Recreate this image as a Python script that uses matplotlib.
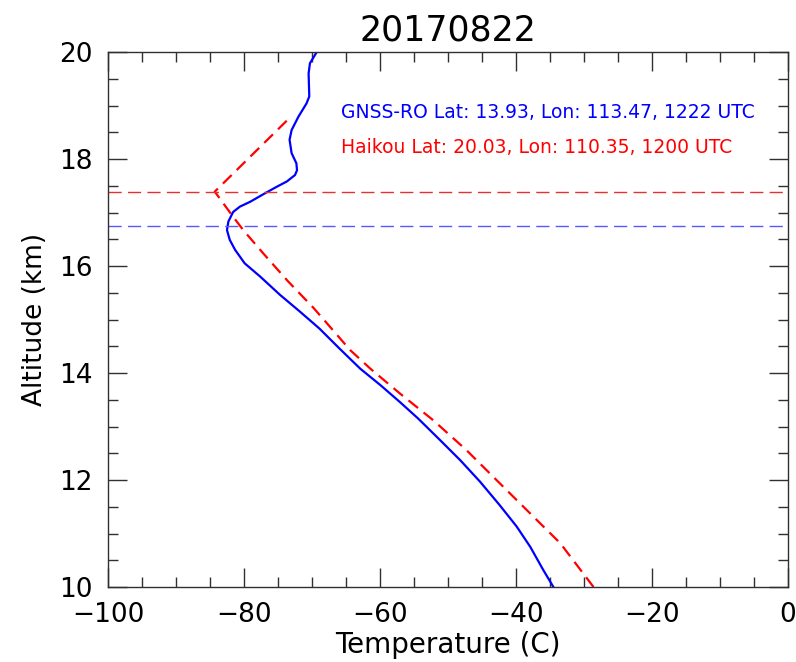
import matplotlib
matplotlib.use("Agg")
import matplotlib.pyplot as plt
from matplotlib.ticker import MultipleLocator

title = "20170822"
gnss_label = "GNSS-RO Lat: 13.93, Lon: 113.47, 1222 UTC"
haikou_label = "Haikou Lat: 20.03, Lon: 110.35, 1200 UTC"

# GNSS-RO profile (temperature C, altitude km)
gnss_temp = [-34.5, -36.0, -37.9, -39.9, -42.4, -45.3, -48.2, -51.2, -54.4, -57.1,
             -60.0, -62.9, -65.9, -68.9, -71.8, -74.7, -77.6, -79.9, -81.3, -82.1,
             -82.5, -82.3, -81.6, -80.6, -79.1, -76.9, -75.2, -73.7, -72.5, -72.2,
             -72.3, -73.0, -73.3, -73.0, -72.0, -70.8, -70.4, -70.5, -70.3, -69.3]
gnss_alt = [10.0, 10.32, 10.75, 11.13, 11.53, 11.97, 12.37, 12.75, 13.15, 13.46,
            13.78, 14.08, 14.45, 14.83, 15.15, 15.46, 15.80, 16.05, 16.30, 16.49,
            16.67, 16.83, 17.01, 17.11, 17.20, 17.36, 17.48, 17.58, 17.70, 17.79,
            17.92, 18.11, 18.36, 18.54, 18.79, 19.04, 19.17, 19.6, 19.79, 20.0]

# Haikou radiosonde profile
haikou_temp = [-28.6, -33.5, -37.4, -42.4, -47.3, -52.2, -57.1, -61.5, -64.4,
               -67.4, -69.8, -73.5, -77.2, -80.1, -81.6, -84.3, -73.2]
haikou_alt = [10.0, 10.82, 11.31, 11.94, 12.56, 13.12, 13.62, 14.09, 14.43,
              14.87, 15.22, 15.71, 16.24, 16.67, 16.92, 17.39, 18.78]

# tropopause heights
trop_haikou = 17.39
trop_gnss = 16.75

fig = plt.figure(figsize=(7.96, 6.62), dpi=100)
ax = fig.add_axes([108/796, 1-587/662, 680/796, 535/662])

ax.plot(gnss_temp, gnss_alt, color="#0000ff", lw=1.6, solid_joinstyle="round")
ax.plot(haikou_temp, haikou_alt, color="#ff0000", lw=1.6, dashes=(5.5, 3.2))
ax.axhline(trop_haikou, color="#e83030", lw=1.0, dashes=(9.5, 4.5))
ax.axhline(trop_gnss, color="#5858ff", lw=1.0, dashes=(9.5, 4.5))

ax.set_xlim(-100, 0)
ax.set_ylim(10, 20)
ax.xaxis.set_major_locator(MultipleLocator(20))
ax.xaxis.set_minor_locator(MultipleLocator(5))
ax.yaxis.set_major_locator(MultipleLocator(2))
ax.yaxis.set_minor_locator(MultipleLocator(0.5))
ax.tick_params(which="both", direction="in", top=True, right=True, color="#303030")
ax.tick_params(which="major", length=14, width=1, labelsize=19, pad=11)
ax.tick_params(which="minor", length=7, width=1)
for s in ax.spines.values():
    s.set_color("#303030")
    s.set_linewidth(1.0)

ax.set_xlabel("Temperature (C)", fontsize=20, labelpad=2)
ax.set_ylabel("Altitude (km)", fontsize=19, labelpad=8)
ax.set_title(title, fontsize=25, pad=8)

ax.text(-65.7, 18.86, gnss_label, color="#0000ff", fontsize=13.5, va="center", ha="left")
ax.text(-65.7, 18.21, haikou_label, color="#ff0000", fontsize=13.5, va="center", ha="left")

fig.savefig("out.png", dpi=100)
